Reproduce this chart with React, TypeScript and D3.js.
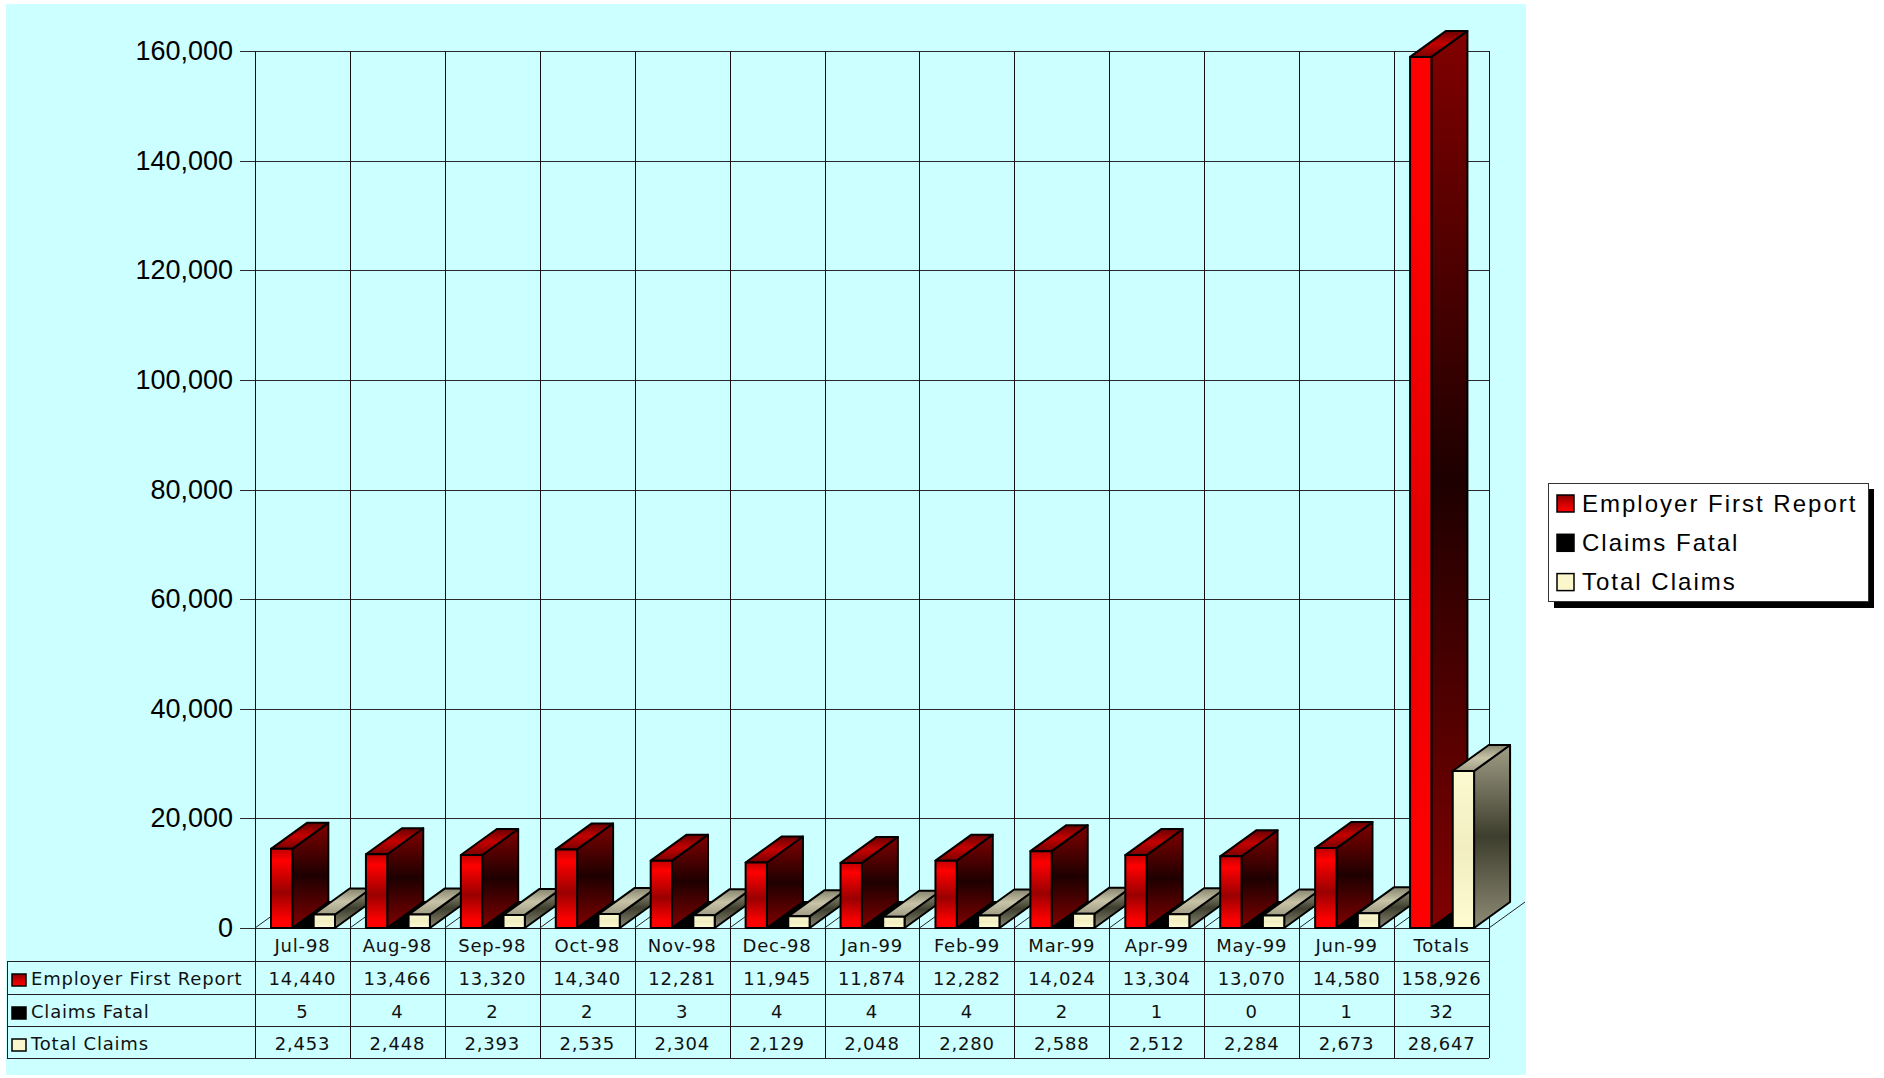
import React from "react";
import * as d3 from "d3";

const categories = ["Jul-98","Aug-98","Sep-98","Oct-98","Nov-98","Dec-98","Jan-99","Feb-99","Mar-99","Apr-99","May-99","Jun-99","Totals"];
const seriesNames = ["Employer First Report","Claims Fatal","Total Claims"];
const employerFirstReport = [14440,13466,13320,14340,12281,11945,11874,12282,14024,13304,13070,14580,158926];
const claimsFatal = [5,4,2,2,3,4,4,4,2,1,0,1,32];
const totalClaims = [2453,2448,2393,2535,2304,2129,2048,2280,2588,2512,2284,2673,28647];
const yTicks = [0,20000,40000,60000,80000,100000,120000,140000,160000];

const W = 1884, H = 1078;
const PL = 255, PR = 1489, PT = 51, PB = 928;
const DX = 36, DY = 26;
const tableRows = [928, 961, 994, 1026, 1058];

const fmt = d3.format(",");
const tableFont = "'DejaVu Sans', Verdana, sans-serif";
const axisFont = "'Liberation Sans', Arial, sans-serif";

export default function App() {
  const y = d3.scaleLinear().domain([0, 160000]).range([PB, PT]);
  const x = d3.scaleBand().domain(categories).range([PL, PR]).padding(0);
  const inner = d3.scaleBand().domain(seriesNames).range([16, 80]).padding(0);
  const bw = inner.bandwidth();
  const seriesData = [employerFirstReport, claimsFatal, totalClaims];
  const boundaries = categories.map((c) => x(c)!).concat([PR]);

  const bars: React.ReactNode[] = [];
  const defs: React.ReactNode[] = [];
  categories.forEach((c, ci) => {
    seriesData.forEach((vals, si) => {
      const v = vals[ci];
      const x1 = x(c)! + inner(seriesNames[si])!;
      const yt = y(v);
      const h = PB - yt;
      const x2 = x1 + bw;
      let frontFill = "#000", sideFill = "#000", topFill = "#000";
      if (si === 0) {
        const t = Math.max(0, Math.min(1, (h - 80) / 600));
        const mid = d3.interpolateRgb("#9a0000", "#e20000")(t);
        const top = d3.interpolateRgb("#c00000", "#ff0000")(t);
        const id = `rf${ci}`;
        defs.push(
          <linearGradient key={id} id={id} x1="0" y1="0" x2="0" y2="1">
            <stop offset="0" stopColor={top} />
            <stop offset="0.15" stopColor="#ff0000" />
            <stop offset="0.55" stopColor={mid} />
            <stop offset="0.9" stopColor="#ff0000" />
            <stop offset="1" stopColor="#ff0000" />
          </linearGradient>
        );
        frontFill = `url(#${id})`;
        sideFill = "url(#redSide)";
        topFill = "url(#redTop)";
      } else if (si === 2) {
        frontFill = "url(#creamFront)";
        sideFill = "url(#creamSide)";
        topFill = "url(#creamTop)";
      }
      const side = `M${x2},${PB} L${x2 + DX},${PB - DY} L${x2 + DX},${yt - DY} L${x2},${yt} Z`;
      const topP = `M${x1},${yt} L${x1 + DX},${yt - DY} L${x2 + DX},${yt - DY} L${x2},${yt} Z`;
      bars.push(
        <g key={`b${ci}-${si}`} stroke="#000" strokeWidth={2} strokeLinejoin="round">
          <path d={side} fill={sideFill} />
          <path d={topP} fill={topFill} />
          <rect x={x1} y={yt} width={bw} height={Math.max(0, h)} fill={frontFill} />
        </g>
      );
    });
  });

  const rowData = [employerFirstReport, claimsFatal, totalClaims];

  const swatch = (si: number, sx: number, sy: number, w: number, h: number, key: string) => {
    const fill = si === 0 ? "url(#swRed)" : si === 1 ? "#000" : "#fbf7cc";
    return <rect key={key} x={sx} y={sy} width={w} height={h} fill={fill} stroke="#000" strokeWidth={1.5} />;
  };

  return (
    <div style={{ position: "absolute", left: 0, top: 0 }}>
      <svg width={W} height={H} style={{ display: "block" }}>
        <defs>
          <linearGradient id="redSide" x1="0" y1="0" x2="0" y2="1">
            <stop offset="0" stopColor="#820000" />
            <stop offset="0.5" stopColor="#1e0000" />
            <stop offset="1" stopColor="#820000" />
          </linearGradient>
          <linearGradient id="redTop" x1="0" y1="1" x2="0" y2="0">
            <stop offset="0" stopColor="#7a0000" />
            <stop offset="0.5" stopColor="#c40000" />
            <stop offset="1" stopColor="#6a0000" />
          </linearGradient>
          <linearGradient id="creamFront" x1="0" y1="0" x2="0" y2="1">
            <stop offset="0" stopColor="#fdf9d0" />
            <stop offset="0.5" stopColor="#f2eec2" />
            <stop offset="1" stopColor="#fffcd2" />
          </linearGradient>
          <linearGradient id="creamSide" x1="0" y1="0" x2="0" y2="1">
            <stop offset="0" stopColor="#a09e86" />
            <stop offset="0.5" stopColor="#3e3e2e" />
            <stop offset="1" stopColor="#8e8c76" />
          </linearGradient>
          <linearGradient id="creamTop" x1="0" y1="1" x2="0" y2="0">
            <stop offset="0" stopColor="#a09c84" />
            <stop offset="0.5" stopColor="#c8c4a8" />
            <stop offset="1" stopColor="#86846e" />
          </linearGradient>
          <linearGradient id="swRed" x1="0" y1="0" x2="0" y2="1">
            <stop offset="0" stopColor="#8a0000" />
            <stop offset="0.5" stopColor="#d00000" />
            <stop offset="1" stopColor="#ff0000" />
          </linearGradient>
          {defs}
        </defs>

        <rect x={6} y={4} width={1520} height={1071} fill="#ccffff" />

        {/* horizontal gridlines + ticks */}
        {yTicks.map((t) => (
          <g key={`t${t}`}>
            <line x1={240} x2={PR} y1={Math.round(y(t)) + 0.5} y2={Math.round(y(t)) + 0.5} stroke="#2a2a2a" strokeWidth={1} />
            <text x={233} y={y(t) + 9} textAnchor="end" fontFamily={axisFont} fontSize={27} fill="#000">
              {fmt(t)}
            </text>
          </g>
        ))}

        {/* vertical gridlines (through chart and table) */}
        {boundaries.map((bx, i) => (
          <line key={`v${i}`} x1={Math.round(bx) + 0.5} x2={Math.round(bx) + 0.5} y1={PT} y2={tableRows[4]} stroke="#111" strokeWidth={1} />
        ))}

        {/* floor diagonals */}
        {boundaries.map((bx, i) => (
          <line key={`f${i}`} x1={bx} y1={PB} x2={bx + DX} y2={PB - DY} stroke="#222" strokeWidth={1} />
        ))}

        {bars}

        {/* table */}
        {tableRows.slice(1).map((ry, i) => (
          <line key={`tr${i}`} x1={7} x2={PR} y1={ry + 0.5} y2={ry + 0.5} stroke="#222" strokeWidth={1} />
        ))}
        <line x1={7.5} x2={7.5} y1={tableRows[1]} y2={tableRows[4]} stroke="#222" strokeWidth={1} />

        {categories.map((c) => (
          <text key={`h${c}`} x={x(c)! + x.bandwidth() / 2} y={tableRows[0] + 23.5} textAnchor="middle" fontFamily={tableFont} fontSize={18} letterSpacing={0.8} fill="#111">
            {c}
          </text>
        ))}
        {rowData.map((vals, ri) => (
          <g key={`row${ri}`}>
            {swatch(ri, 12, tableRows[ri + 1] + 13, 14, 12, `sw${ri}`)}
            <text x={31} y={tableRows[ri + 1] + 24} fontFamily={tableFont} fontSize={18} letterSpacing={0.8} fill="#111">
              {seriesNames[ri]}
            </text>
            {categories.map((c, ci) => (
              <text key={`c${ri}-${ci}`} x={x(c)! + x.bandwidth() / 2} y={tableRows[ri + 1] + 24} textAnchor="middle" fontFamily={tableFont} fontSize={18} letterSpacing={0.8} fill="#111">
                {fmt(vals[ci])}
              </text>
            ))}
          </g>
        ))}

        {/* legend */}
        <rect x={1554} y={489} width={320} height={119} fill="#000" />
        <rect x={1548.5} y={483.5} width={320} height={118} fill="#fff" stroke="#333" strokeWidth={1} />
        {seriesNames.map((s, i) => (
          <g key={`lg${i}`}>
            {swatch(i, 1557, 495 + i * 39.3, 17, 17, `lsw${i}`)}
            <text x={1582} y={511.5 + i * 39.3} fontFamily={axisFont} fontSize={24} letterSpacing={2} fill="#000">
              {s}
            </text>
          </g>
        ))}
      </svg>
    </div>
  );
}
